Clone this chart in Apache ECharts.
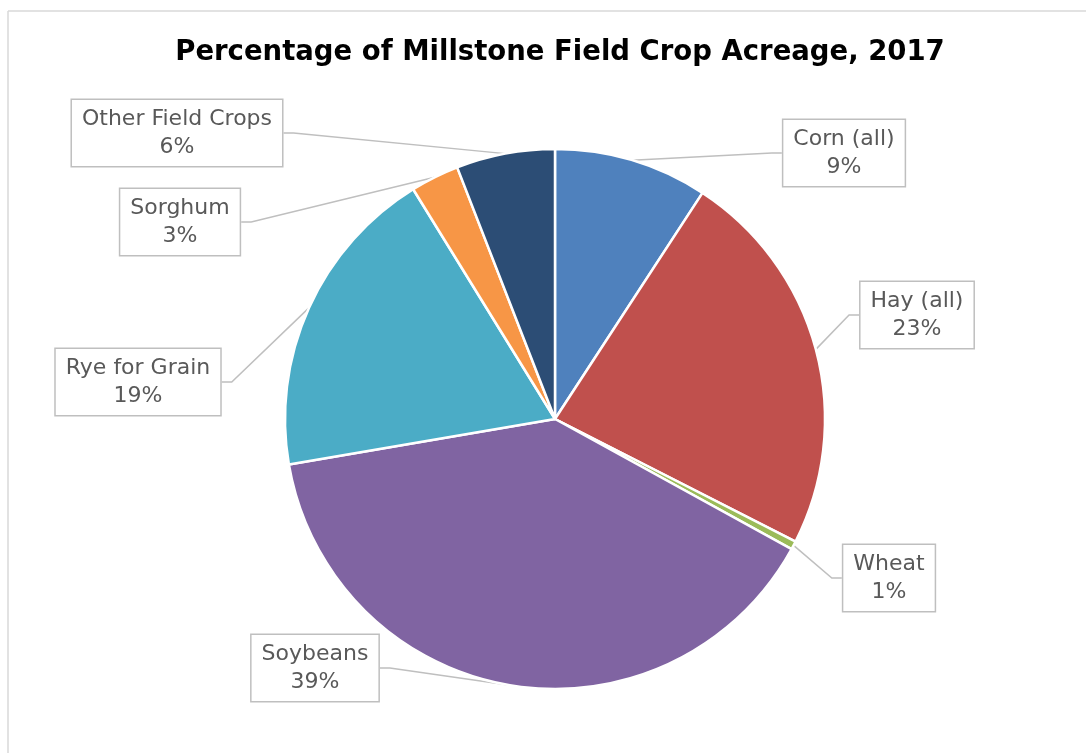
<!DOCTYPE html>
<html>
<head>
<meta charset="utf-8">
<script src="https://cdn.jsdelivr.net/npm/echarts@6/dist/echarts.min.js"></script>
<style>
html,body{margin:0;padding:0;background:#fff;}
#chart{width:1086px;height:753px;}
</style>
</head>
<body>
<div id="chart"></div>
<script>
const categories = ['Corn (all)', 'Hay (all)', 'Wheat', 'Soybeans', 'Rye for Grain', 'Sorghum', 'Other Field Crops'];
const shares = [9.2, 23.3, 0.5, 39.3, 18.9, 2.9, 5.9];
const colors = ['#4F81BD', '#C0504D', '#9BBB59', '#8064A2', '#4BACC6', '#F79646', '#2C4D75'];
const labelCenters = [[844, 153], [917, 315], [889, 578], [315, 668], [138, 382], [180, 222], [177, 133]];

const chart = echarts.init(document.getElementById('chart'), null, {renderer: 'canvas'});
chart.setOption({
  animation: false,
  backgroundColor: '#fff',
  title: {
    text: 'Percentage of Millstone Field Crop Acreage, 2017',
    left: 555,
    textAlign: 'center',
    top: 34,
    textStyle: {fontFamily: 'DejaVu Sans', fontWeight: 'bold', fontSize: 27.5, color: '#000'}
  },
  graphic: [
    {type: 'line', shape: {x1: 8, y1: 11, x2: 1086, y2: 11}, style: {stroke: '#d9d9d9', lineWidth: 1.5}, silent: true},
    {type: 'line', shape: {x1: 8, y1: 11, x2: 8, y2: 753}, style: {stroke: '#d9d9d9', lineWidth: 1.5}, silent: true}
  ],
  series: [{
    type: 'pie',
    center: [555, 419],
    radius: 270,
    startAngle: 90,
    clockwise: true,
    silent: true,
    data: categories.map((c, i) => ({name: c, value: shares[i], itemStyle: {color: colors[i]}})),
    itemStyle: {borderColor: '#fff', borderWidth: 2.5},
    label: {
      show: true,
      position: 'outside',
      formatter: p => p.name + '\n' + Math.round(p.percent) + '%',
      fontFamily: 'DejaVu Sans',
      fontSize: 22,
      lineHeight: 28,
      color: '#595959',
      align: 'center',
      backgroundColor: '#fff',
      borderColor: '#bfbfbf',
      borderWidth: 1.5,
      padding: [5, 10]
    },
    labelLine: {show: true, length: 10, length2: 10, lineStyle: {color: '#bfbfbf', width: 1.5}},
    labelLayout: function (params) {
      const c = labelCenters[params.dataIndex];
      return {x: c[0], y: c[1], align: 'center', verticalAlign: 'middle'};
    }
  }]
});
</script>
</body>
</html>
